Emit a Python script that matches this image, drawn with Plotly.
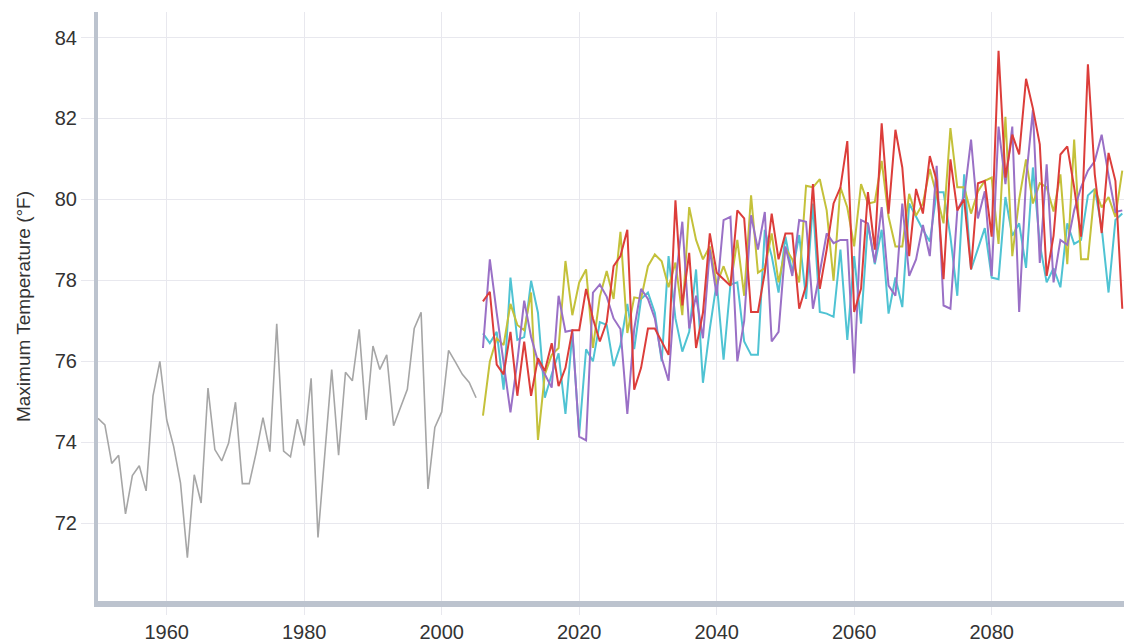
import plotly.graph_objects as go

hist_years = list(range(1950, 2006))
hist_vals = [
    74.59, 74.43, 73.48, 73.68, 72.23, 73.18, 73.42, 72.80, 75.15, 76.00,
    74.55, 73.90, 73.00, 71.15, 73.20, 72.50, 75.34, 73.82, 73.54, 73.98,
    74.99, 72.98, 72.98, 73.74, 74.61, 73.77, 76.93, 73.78, 73.64, 74.57,
    73.92, 75.58, 71.65, 73.70, 75.80, 73.68, 75.73, 75.52, 76.79, 74.55,
    76.38, 75.80, 76.16, 74.41, 74.87, 75.31, 76.81, 77.21, 72.85, 74.37,
    74.75, 76.27, 75.98, 75.68, 75.48, 75.10,
]

proj_years = list(range(2006, 2100))
red_vals = [
    77.48, 77.72, 75.92, 75.68, 76.73, 75.15, 76.49, 75.15, 76.08, 75.76,
    76.45, 75.39, 75.84, 76.77, 76.77, 77.79, 77.06, 76.49, 76.97, 78.35,
    78.60, 79.25, 75.30, 75.84, 76.81, 76.81, 76.49, 76.16, 79.98, 77.38,
    78.68, 76.33, 77.20, 79.16, 78.19, 78.03, 77.87, 79.73, 79.53, 77.22,
    77.22, 78.20, 79.65, 78.52, 79.16, 79.16, 77.30, 77.87, 80.38, 77.79,
    78.76, 79.90, 80.30, 81.44, 77.22, 77.80, 80.18, 78.76, 81.88, 79.65,
    81.72, 80.79, 78.60, 80.26, 79.65, 81.07, 80.46, 78.03, 80.99, 79.73,
    80.00, 78.27, 80.40, 80.46, 79.08, 83.67, 80.54, 81.60, 81.11, 82.98,
    82.25, 81.36, 78.11, 79.10, 81.11, 81.31, 80.30, 79.08, 83.34, 80.62,
    79.17, 81.15, 80.46, 77.30,
]
yellow_vals = [
    74.66, 76.00, 76.57, 76.40, 77.42, 76.90, 76.77, 77.70, 74.06, 75.68,
    76.16, 76.33, 78.48, 77.14, 77.95, 78.27, 76.33, 77.60, 78.23, 77.54,
    79.20, 76.70, 77.58, 77.55, 78.35, 78.64, 78.47, 77.83, 78.44, 77.14,
    79.81, 79.00, 78.52, 78.84, 77.90, 78.35, 77.87, 79.00, 77.62, 80.10,
    78.19, 78.30, 79.16, 77.95, 78.80, 78.52, 77.95, 80.34, 80.30, 80.50,
    79.73, 77.99, 80.30, 79.80, 78.84, 80.38, 79.90, 79.94, 80.95, 79.57,
    78.84, 78.84, 80.14, 79.60, 79.90, 80.75, 80.10, 79.41, 81.76, 80.30,
    80.30, 79.65, 80.20, 80.46, 80.54, 78.90, 82.04, 78.60, 80.00, 80.99,
    79.90, 80.40, 80.30, 79.70, 80.62, 78.40, 81.48, 78.52, 78.52, 80.26,
    79.80, 80.06, 79.57, 80.71,
]
purple_vals = [
    76.33, 78.52, 77.20, 75.90, 74.74, 76.00, 77.50, 76.60, 76.00, 75.68,
    75.35, 77.62, 76.73, 76.77, 74.14, 74.05, 77.70, 77.90, 77.60, 77.06,
    76.80, 74.70, 76.80, 77.79, 77.54, 77.06, 76.08, 75.52, 77.95, 79.45,
    76.81, 77.62, 76.57, 78.76, 77.62, 79.49, 79.57, 76.00, 77.00, 79.61,
    78.76, 79.69, 76.49, 76.73, 78.84, 78.11, 79.49, 79.45, 77.30, 78.20,
    79.16, 78.92, 79.00, 79.00, 75.70, 79.49, 79.41, 78.44, 79.81, 77.87,
    77.62, 79.90, 78.11, 78.52, 79.37, 78.60, 80.83, 77.38, 77.30, 79.73,
    80.06, 81.48, 79.53, 80.20, 78.11, 81.80, 80.38, 81.80, 77.22, 80.50,
    82.21, 78.43, 80.87, 77.95, 79.00, 78.88, 79.73, 80.30, 80.71, 80.95,
    81.60, 80.60, 79.69, 79.73,
]
cyan_vals = [
    76.69, 76.45, 76.73, 75.30, 78.07, 76.53, 76.60, 77.99, 77.20, 75.10,
    75.68, 76.20, 74.70, 76.70, 74.20, 76.30, 76.00, 76.97, 76.90, 75.88,
    76.40, 77.42, 76.30, 77.54, 77.70, 77.20, 76.00, 78.60, 77.06, 76.24,
    76.73, 78.27, 75.47, 76.80, 77.95, 76.04, 77.90, 77.95, 76.49, 76.16,
    76.16, 79.25, 78.60, 77.70, 79.08, 78.19, 79.12, 77.54, 79.90, 77.22,
    77.18, 77.10, 78.76, 76.53, 78.60, 76.93, 79.41, 78.40, 79.25, 77.18,
    78.07, 77.34, 79.90, 79.57, 79.25, 78.96, 80.18, 80.18, 79.08, 77.62,
    80.62, 78.27, 78.80, 79.29, 78.07, 78.03, 80.06, 79.10, 79.41, 78.31,
    80.79, 78.90, 77.95, 78.30, 77.83, 79.41, 78.90, 79.00, 80.10, 80.26,
    79.30, 77.70, 79.49, 79.65,
]

x_ticks = [1960, 1980, 2000, 2020, 2040, 2060, 2080]
y_ticks = [72, 74, 76, 78, 80, 82, 84]
y_title = "Maximum Temperature (°F)"

GRID = "#e8e8ee"
AXIS = "#bcc3ce"
TXT = "#333333"

fig = go.Figure()
fig.add_trace(go.Scatter(x=hist_years, y=hist_vals, mode="lines",
                         line=dict(color="#a6a6a6", width=1.6), hoverinfo="skip"))
series = [
    (cyan_vals, "#4fc3d3"),
    (yellow_vals, "#c4c13a"),
    (purple_vals, "#9a70c6"),
    (red_vals, "#dc3d3a"),
]
for vals, col in series:
    fig.add_trace(go.Scatter(x=proj_years, y=vals, mode="lines",
                             line=dict(color=col, width=2), hoverinfo="skip"))

fig.update_layout(
    width=1124, height=643,
    margin=dict(l=98, r=0, t=12, b=33),
    paper_bgcolor="white", plot_bgcolor="white",
    showlegend=False,
    font=dict(family="Liberation Sans, Arial, sans-serif", size=20, color=TXT),
)
fig.update_xaxes(
    range=[1950, 2099.25], tickvals=x_ticks, ticktext=[str(v) for v in x_ticks],
    showgrid=True, gridcolor=GRID, gridwidth=1,
    showline=True, linecolor=AXIS, linewidth=6,
    ticks="outside", ticklen=8, tickcolor=GRID,
    zeroline=False, tickfont=dict(size=20, color=TXT),
)
fig.update_yaxes(
    range=[70.08, 84.63], tickvals=y_ticks, ticktext=[str(v) for v in y_ticks],
    showgrid=True, gridcolor=GRID, gridwidth=1,
    showline=True, linecolor=AXIS, linewidth=4,
    ticks="outside", ticklen=13, tickcolor=GRID,
    zeroline=False, tickfont=dict(size=20, color=TXT),
    title=dict(text=y_title, font=dict(size=19, color=TXT), standoff=20),
)

fig.write_html(
    "out.html",
    config={"displayModeBar": False},
    post_script="document.body.style.margin='0';document.body.style.overflow='hidden';",
)
